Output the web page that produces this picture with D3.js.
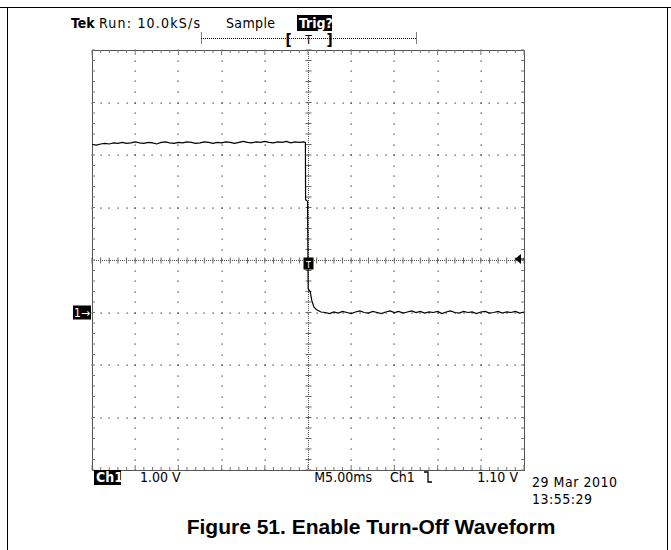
<!DOCTYPE html>
<html>
<head>
<meta charset="utf-8">
<script src="https://cdn.jsdelivr.net/npm/d3@7"></script>
<style>
  body { margin: 0; background: #fff; }
  text { font-family: "DejaVu Sans Condensed", "DejaVu Sans", sans-serif; }
</style>
</head>
<body>
<div id="chart"></div>
<script>
// time in ms, volts on Ch1
var highLevel = [[-25,3.20],[-24.5,3.19],[-24,3.21],[-23.5,3.22],[-23,3.21],[-22.5,3.23],[-22,3.22],[-21.5,3.24],[-21,3.22],[-20.5,3.23],[-20,3.25],[-19.5,3.23],[-19,3.22],[-18.5,3.24],[-18,3.23],[-17.5,3.21],[-17,3.24],[-16.5,3.25],[-16,3.23],[-15.5,3.22],[-15,3.24],[-14.5,3.23],[-14,3.25],[-13.5,3.24],[-13,3.22],[-12.5,3.23],[-12,3.25],[-11.5,3.24],[-11,3.22],[-10.5,3.24],[-10,3.23],[-9.5,3.25],[-9,3.24],[-8.5,3.22],[-8,3.24],[-7.5,3.26],[-7,3.24],[-6.5,3.23],[-6,3.25],[-5.5,3.24],[-5,3.26],[-4.5,3.24],[-4,3.23],[-3.5,3.25],[-3,3.24],[-2.5,3.26],[-2,3.23],[-1.5,3.25],[-1,3.24],[-0.5,3.25],[-0.3,3.24]];
var fallingEdge = [[-0.28,2.15],[-0.05,2.12],[0.02,0.45],[0.25,0.40],[0.45,0.22],[0.7,0.10],[1.0,0.05],[1.5,0.01]];
var lowLevel = [[2,0.00],[2.5,-0.02],[3,0.01],[3.5,-0.01],[4,0.02],[4.5,0.00],[5,-0.02],[5.5,0.01],[6,0.03],[6.5,0.00],[7,-0.01],[7.5,0.02],[8,0.00],[8.5,-0.02],[9,0.01],[9.5,0.03],[10,0.00],[10.5,0.02],[11,-0.01],[11.5,0.01],[12,0.03],[12.5,0.00],[13,0.02],[13.5,-0.01],[14,0.01],[14.5,0.00],[15,0.02],[15.5,-0.02],[16,0.01],[16.5,0.03],[17,0.00],[17.5,-0.01],[18,0.02],[18.5,0.00],[19,0.01],[19.5,-0.02],[20,0.01],[20.5,0.02],[21,-0.01],[21.5,0.00],[22,0.02],[22.5,-0.01],[23,0.01],[23.5,0.00],[24,0.02],[24.5,-0.01],[25,0.01]];

var timeRange = [-25, 25];     // 10 div x 5 ms
var voltRange = [-3, 5];       // 8 div x 1 V, ground one div below centre
var triggerArrowLevel = 1.02;  // where the level arrow sits on screen

var headerLabels = ["Run: 10.0kS/s", "Sample", "Trig?"];
var footerLabels = ["1.00 V", "M5.00ms", "Ch1", "1.10 V"];
var dateLabels = ["29 Mar 2010", "13:55:29"];
var caption = "Figure 51. Enable Turn-Off Waveform";

var width = 671, height = 550;
var plotLeft = 92, plotRight = 524, plotTop = 50, plotBottom = 470;

var svg = d3.select("#chart").append("svg").attr("width", width).attr("height", height);

// page frame
svg.append("line").attr("x1", 0).attr("x2", width).attr("y1", 7.5).attr("y2", 7.5).attr("stroke", "#000");
svg.append("line").attr("x1", 7.5).attr("x2", 7.5).attr("y1", 7).attr("y2", height).attr("stroke", "#000");
svg.append("line").attr("x1", 667.5).attr("x2", 667.5).attr("y1", 7).attr("y2", height).attr("stroke", "#000");

var x = d3.scaleLinear().domain(timeRange).range([plotLeft, plotRight]);
var y = d3.scaleLinear().domain(voltRange).range([plotBottom, plotTop]);

var majorX = d3.range(-20, 21, 5).filter(function(d) { return d !== 0; });
var majorY = d3.range(-2, 5, 1).filter(function(d) { return d !== 1; });
var minorX = d3.range(-25, 25.01, 1);
var minorY = d3.range(-3, 5.01, 0.2).map(function(d) { return Math.round(d * 10) / 10; });

var grid = svg.append("g").attr("fill", "#333");

// dotted graticule: dots at every minor step along each major line
majorX.forEach(function(t) {
  grid.selectAll(null).data(minorY).enter().append("rect")
    .attr("x", Math.round(x(t)) - 0.5).attr("y", function(d) { return Math.round(y(d)) - 0.5; })
    .attr("width", 1.2).attr("height", 1.2);
});
majorY.forEach(function(v) {
  grid.selectAll(null).data(minorX).enter().append("rect")
    .attr("x", function(d) { return Math.round(x(d)) - 0.5; }).attr("y", Math.round(y(v)) - 0.5)
    .attr("width", 1.2).attr("height", 1.2);
});

// centre cross
var cx = Math.round(x(0)) + 0.5, cy = Math.round(y(1)) + 0.5;
svg.append("line").attr("x1", plotLeft).attr("x2", plotRight).attr("y1", cy).attr("y2", cy)
  .attr("stroke", "#555").attr("stroke-dasharray", "1,1");
svg.append("line").attr("x1", cx).attr("x2", cx).attr("y1", plotTop).attr("y2", plotBottom)
  .attr("stroke", "#555").attr("stroke-dasharray", "1,1");
svg.append("g").selectAll("line").data(minorX).enter().append("line")
  .attr("x1", function(d) { return x(d); }).attr("x2", function(d) { return x(d); })
  .attr("y1", cy - 3).attr("y2", cy + 3).attr("stroke", "#666");
svg.append("g").selectAll("line").data(minorY).enter().append("line")
  .attr("y1", function(d) { return y(d); }).attr("y2", function(d) { return y(d); })
  .attr("x1", cx - 3).attr("x2", cx + 3).attr("stroke", "#666");

// border with inward ticks
svg.append("rect").attr("x", plotLeft + 0.5).attr("y", plotTop + 0.5)
  .attr("width", plotRight - plotLeft).attr("height", plotBottom - plotTop)
  .attr("fill", "none").attr("stroke", "#555");
var ticks = svg.append("g").attr("stroke", "#777");
ticks.selectAll(null).data(minorX).enter().append("line")
  .attr("x1", function(d) { return x(d); }).attr("x2", function(d) { return x(d); })
  .attr("y1", plotTop).attr("y2", function(d) { return plotTop + (d % 5 === 0 ? 5 : 3); });
ticks.selectAll(null).data(minorX).enter().append("line")
  .attr("x1", function(d) { return x(d); }).attr("x2", function(d) { return x(d); })
  .attr("y1", plotBottom).attr("y2", function(d) { return plotBottom - (d % 5 === 0 ? 5 : 3); });
ticks.selectAll(null).data(minorY).enter().append("line")
  .attr("y1", function(d) { return y(d); }).attr("y2", function(d) { return y(d); })
  .attr("x1", plotLeft).attr("x2", plotLeft + 3);
ticks.selectAll(null).data(minorY).enter().append("line")
  .attr("y1", function(d) { return y(d); }).attr("y2", function(d) { return y(d); })
  .attr("x1", plotRight).attr("x2", plotRight - 3);

// waveform
var trace = highLevel.concat(fallingEdge, lowLevel);
var line = d3.line().x(function(d) { return x(d[0]); }).y(function(d) { return y(d[1]); });
svg.append("path").datum(trace).attr("d", line)
  .attr("fill", "none").attr("stroke", "#000").attr("stroke-width", 1.2);

// trigger point marker
svg.append("rect").attr("x", cx - 5).attr("y", cy - 3).attr("width", 10).attr("height", 12).attr("fill", "#000");
svg.append("text").attr("x", cx).attr("y", cy + 7).attr("text-anchor", "middle")
  .attr("font-size", 9).attr("fill", "#fff").text("T");

// trigger level arrow
var ty = y(triggerArrowLevel);
svg.append("path").attr("d", "M" + (plotRight - 9) + "," + ty + "L" + (plotRight - 3) + "," + (ty - 5) + "L" + (plotRight - 3) + "," + (ty + 5) + "Z")
  .attr("fill", "#000");
svg.append("line").attr("x1", plotRight - 9).attr("x2", plotRight).attr("y1", ty).attr("y2", ty).attr("stroke", "#000");

// channel ground marker
var gy = y(0);
svg.append("rect").attr("x", 73).attr("y", gy - 7).attr("width", 18).attr("height", 14).attr("fill", "#000");
svg.append("text").attr("x", 82).attr("y", gy + 4.5).attr("text-anchor", "middle")
  .attr("font-size", 12).attr("fill", "#fff").text("1\u2192");

// header
var hy = 28;
svg.append("text").attr("x", 71).attr("y", hy).attr("font-size", 14).attr("font-weight", "bold").text("Tek");
svg.append("text").attr("x", 99).attr("y", hy).attr("font-size", 14)
  .attr("textLength", 101).text(headerLabels[0]);
svg.append("text").attr("x", 226).attr("y", hy).attr("font-size", 14).attr("textLength", 49).text(headerLabels[1]);
svg.append("rect").attr("x", 297).attr("y", 15).attr("width", 35).attr("height", 16).attr("fill", "#000");
svg.append("text").attr("x", 299).attr("y", hy).attr("font-size", 14).attr("font-weight", "bold")
  .attr("fill", "#fff").text(headerLabels[2]);

// record view bracket
var bx1 = 201, bx2 = 416, by = 38.5;
svg.append("line").attr("x1", bx1).attr("x2", bx2).attr("y1", by).attr("y2", by)
  .attr("stroke", "#000").attr("stroke-dasharray", "1,1");
[bx1, bx2].forEach(function(bx) {
  svg.append("line").attr("x1", bx + 0.5).attr("x2", bx + 0.5).attr("y1", by - 6).attr("y2", by + 5)
    .attr("stroke", "#000").attr("stroke-dasharray", "1,1");
});
svg.append("text").attr("x", cx - 23).attr("y", by + 6).attr("font-size", 15).attr("font-weight", "bold").text("[");
svg.append("text").attr("x", cx).attr("y", by + 5).attr("font-size", 12).attr("text-anchor", "middle").text("T");
svg.append("text").attr("x", cx + 18).attr("y", by + 6).attr("font-size", 15).attr("font-weight", "bold").text("]");

// footer readouts
var fy = 482;
svg.append("rect").attr("x", 94).attr("y", fy - 12).attr("width", 27).attr("height", 15).attr("fill", "#000");
svg.append("text").attr("x", 96).attr("y", fy).attr("font-size", 14).attr("font-weight", "bold").attr("fill", "#fff").text("Ch1");
svg.append("text").attr("x", 140).attr("y", fy).attr("font-size", 14).text(footerLabels[0]);
svg.append("text").attr("x", 372).attr("y", fy).attr("font-size", 14).attr("text-anchor", "end").text(footerLabels[1]);
svg.append("text").attr("x", 390).attr("y", fy).attr("font-size", 14).text(footerLabels[2]);
svg.append("path").attr("d", "M424," + (fy - 10) + "L428," + (fy - 10) + "L428," + fy + "L432," + fy)
  .attr("fill", "none").attr("stroke", "#000").attr("stroke-width", 1.3);
svg.append("text").attr("x", 518).attr("y", fy).attr("font-size", 14).attr("text-anchor", "end").text(footerLabels[3]);
svg.append("text").attr("x", 532).attr("y", fy + 5).attr("font-size", 14).attr("textLength", 85).text(dateLabels[0]);
svg.append("text").attr("x", 532).attr("y", fy + 22).attr("font-size", 14).attr("textLength", 60).text(dateLabels[1]);

// caption
svg.append("text").attr("x", 371).attr("y", 534).attr("text-anchor", "middle")
  .style("font-family", "'Liberation Sans', Arial, sans-serif")
  .attr("font-size", 21).attr("font-weight", "bold").text(caption);
</script>
</body>
</html>
